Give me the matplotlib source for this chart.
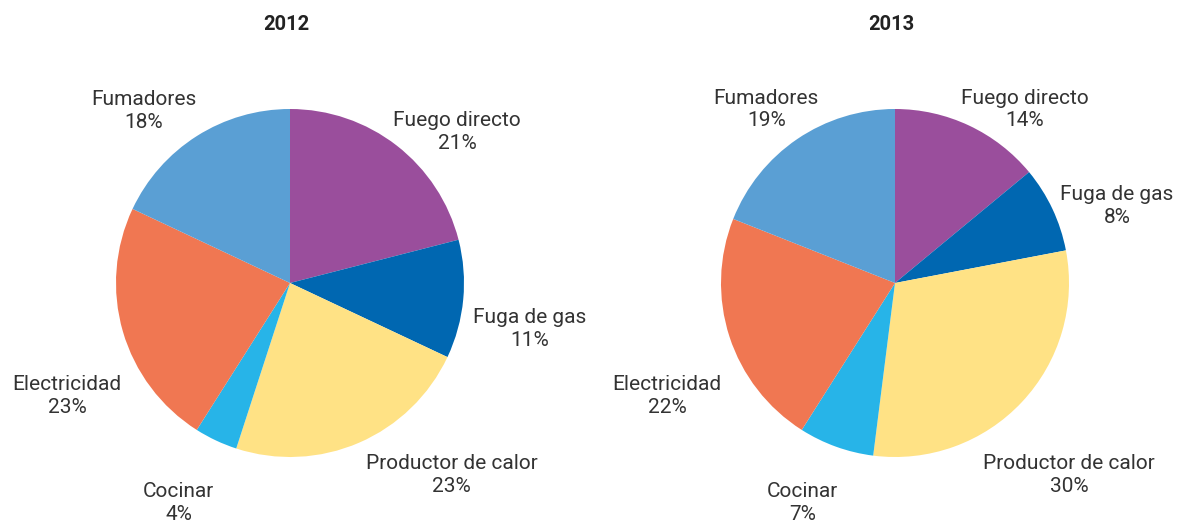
import numpy as np
import matplotlib.pyplot as plt

plt.rcParams['font.family'] = ['Roboto', 'DejaVu Sans']

# Data
categories = ["Fuego directo", "Fuga de gas", "Productor de calor",
              "Cocinar", "Electricidad", "Fumadores"]
years = ["2012", "2013"]
values_2012 = [21, 11, 23, 4, 23, 18]
values_2013 = [14, 8, 30, 7, 22, 19]

colors = ["#9A4E9C", "#0067B1", "#FFE285", "#27B4E8", "#F07752", "#5A9FD4"]

# label positions in pie-radius units (placed by hand in the original)
label_pos_2012 = [(0.96, 0.868), (1.38, -0.263), (0.93, -1.106),
                  (-0.64, -1.266), (-1.28, -0.649), (-0.84, 0.991)]
label_pos_2013 = [(0.746, 0.997), (1.275, 0.441), (1.00, -1.106),
                  (-0.53, -1.266), (-1.31, -0.649), (-0.74, 0.997)]

W, H = 1178, 522
fig = plt.figure(figsize=(W / 100, H / 100), dpi=100)

R = 174  # pie radius in px
k = 1.6
centers = [(290, 283), (895, 283)]

for year, vals, lpos, (cx, cy) in zip(years, [values_2012, values_2013],
                                      [label_pos_2012, label_pos_2013], centers):
    ax = fig.add_axes([(cx - R * k) / W, (H - cy - R * k) / H, 2 * R * k / W, 2 * R * k / H])
    ax.pie(vals, colors=colors, startangle=90, counterclock=False, radius=1,
           wedgeprops=dict(linewidth=0))
    for cat, v, (lx, ly) in zip(categories, vals, lpos):
        ax.text(lx, ly, f"{cat}\n{v}%", ha="center", va="center", fontsize=15,
                color="#333333", linespacing=1.26)
    ax.set_xlim(-k, k)
    ax.set_ylim(-k, k)
    ax.set_aspect("equal")
    ax.axis("off")
    fig.text((cx - 4) / W, 1 - 25 / H, year, ha="center", va="center",
             fontsize=14.5, fontweight="bold", color="#222222")

fig.savefig("out.png", dpi=100)
